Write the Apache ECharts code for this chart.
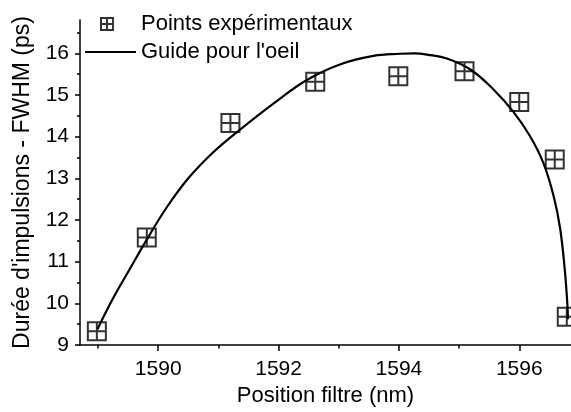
<!DOCTYPE html>
<html>
<head>
<meta charset="utf-8">
<style>
  html, body { margin: 0; padding: 0; background: #ffffff; }
  #chart { width: 571px; height: 412px; }
</style>
<script src="https://cdn.jsdelivr.net/npm/echarts@6/dist/echarts.min.js"></script>
</head>
<body>
<div id="chart"></div>
<script>
// Measured pulse durations against filter position
const positions = [1588.98, 1589.81, 1591.20, 1592.61, 1593.99, 1595.09, 1596.00, 1596.59, 1596.79];
const durations = [9.33, 11.58, 14.33, 15.32, 15.45, 15.57, 14.83, 13.45, 9.68];

// Hand-drawn guide curve (x positions and y values along the curve)
const guideX = [1588.99, 1589.25, 1589.53, 1589.81, 1590.14, 1590.50, 1590.91, 1591.36, 1591.92,
                1592.47, 1593.03, 1593.58, 1594.02, 1594.26, 1594.47, 1594.81, 1595.20, 1595.58,
                1595.90, 1596.18, 1596.40, 1596.57, 1596.68, 1596.76, 1596.80, 1596.81];
const guideY = [9.38, 10.12, 10.83, 11.53, 12.30, 13.00, 13.62, 14.17, 14.80,
                15.36, 15.74, 15.94, 15.99, 16.00, 15.97, 15.87, 15.60, 15.12,
                14.60, 14.01, 13.37, 12.58, 11.79, 10.75, 9.96, 9.62];

// Axis ticks and labels
const xMajorTicks = [1590, 1592, 1594, 1596];
const xMinorTicks = [1589, 1591, 1593, 1595];
const yMajorTicks = [9, 10, 11, 12, 13, 14, 15, 16];
const yMinorTicks = [9.5, 10.5, 11.5, 12.5, 13.5, 14.5, 15.5, 16.5];

const seriesNames = ['Points expérimentaux', 'Guide pour l\'oeil'];
const xTitle = 'Position filtre (nm)';
const yTitle = 'Durée d\'impulsions - FWHM (ps)';

const X_MIN = 1588.70, X_MAX = 1596.86;
const Y_MIN = 9, Y_MAX = 16.8;

const FONT = '"Liberation Sans", Arial, sans-serif';
const INK = '#000000';

// Square with an inner cross
const boxCross = 'path://M0,0L20,0L20,20L0,20ZM10,0L10,20M0,10L20,10';

const pointData = positions.map((x, i) => [x, durations[i]]);
const guideData = guideX.map((x, i) => [x, guideY[i]]);

const chart = echarts.init(document.getElementById('chart'), null, { renderer: 'canvas' });

const axisLineStyle = { color: INK, width: 1.5 };
const legendText = { fontFamily: FONT, fontSize: 22, color: INK };

chart.setOption({
  backgroundColor: '#ffffff',
  animation: false,
  textStyle: { fontFamily: FONT, color: INK },
  grid: { left: 80, right: 0, top: 20, bottom: 65, containLabel: false },
  legend: [
    {
      data: [seriesNames[0]],
      left: 100, top: 13, padding: 0,
      itemWidth: 12, itemHeight: 12,
      formatter: (name) => '{gap|}' + name,
      textStyle: Object.assign({ rich: { gap: { width: 23 } } }, legendText),
      selectedMode: false
    },
    {
      data: [{ name: seriesNames[1], icon: 'rect' }],
      left: 85, top: 41, padding: 0,
      itemWidth: 51, itemHeight: 2.2,
      textStyle: legendText,
      selectedMode: false
    }
  ],
  xAxis: [
    {
      type: 'value', min: X_MIN, max: X_MAX,
      position: 'bottom',
      name: xTitle, nameLocation: 'middle', nameGap: 40,
      nameTextStyle: { fontFamily: FONT, fontSize: 22, color: INK },
      axisLine: { show: true, lineStyle: axisLineStyle },
      axisTick: { show: true, inside: false, length: 6, lineStyle: axisLineStyle, customValues: xMajorTicks },
      axisLabel: { show: true, fontFamily: FONT, fontSize: 21, color: INK, margin: 14,
                   customValues: xMajorTicks, formatter: (v) => String(Math.round(v)) },
      splitLine: { show: false }
    },
    {
      type: 'value', min: X_MIN, max: X_MAX,
      position: 'bottom',
      axisLine: { show: false },
      axisTick: { show: true, inside: false, length: 3.5, lineStyle: axisLineStyle, customValues: xMinorTicks },
      axisLabel: { show: false },
      splitLine: { show: false }
    }
  ],
  yAxis: [
    {
      type: 'value', min: Y_MIN, max: Y_MAX,
      position: 'left',
      name: yTitle, nameLocation: 'middle', nameGap: 46, nameRotate: 90,
      nameTextStyle: { fontFamily: FONT, fontSize: 23, color: INK },
      axisLine: { show: true, lineStyle: axisLineStyle },
      axisTick: { show: true, inside: false, length: 5, lineStyle: axisLineStyle, customValues: yMajorTicks },
      axisLabel: { show: true, fontFamily: FONT, fontSize: 21, color: INK, margin: 11,
                   customValues: yMajorTicks, formatter: (v) => String(Math.round(v)) },
      splitLine: { show: false }
    },
    {
      type: 'value', min: Y_MIN, max: Y_MAX,
      position: 'left',
      axisLine: { show: false },
      axisTick: { show: true, inside: false, length: 3, lineStyle: axisLineStyle, customValues: yMinorTicks },
      axisLabel: { show: false },
      splitLine: { show: false }
    }
  ],
  series: [
    {
      name: seriesNames[0],
      type: 'scatter',
      xAxisIndex: 0, yAxisIndex: 0,
      data: pointData,
      symbol: boxCross,
      symbolSize: 18,
      symbolKeepAspect: true,
      itemStyle: { color: 'rgba(0,0,0,0)', borderColor: INK, borderWidth: 2 },
      z: 3
    },
    {
      name: seriesNames[1],
      type: 'line',
      xAxisIndex: 0, yAxisIndex: 0,
      data: guideData,
      smooth: 0.4,
      symbol: 'none',
      lineStyle: { color: INK, width: 2.2 },
      itemStyle: { color: INK },
      z: 2
    }
  ]
});
</script>
</body>
</html>
